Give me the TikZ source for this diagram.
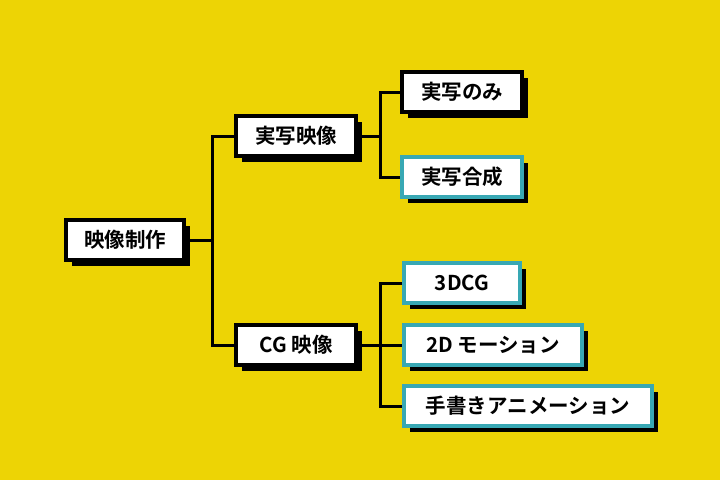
\documentclass[tikz,border=0pt]{standalone}
\usepackage{fontspec}
\newfontfamily\jp{Noto Sans CJK JP}[BoldFont={* Bold}]
\usetikzlibrary{shadows}
\definecolor{bg}{HTML}{EDD405}
\definecolor{teal}{HTML}{38A8B4}
\tikzset{
  box/.style={draw=black, line width=4pt, fill=white, inner sep=0pt, minimum height=40pt,
    font=\jp\bfseries\fontsize{20.5}{20.5}\selectfont,
    drop shadow={shadow xshift=6pt, shadow yshift=-6pt, fill=black, opacity=1}},
  tbox/.style={box, draw=teal},
  conn/.style={line width=3pt, black}
}
\begin{document}
\begin{tikzpicture}[x=1pt,y=-1pt]
\fill[bg] (0,0) rectangle (720,480);
\useasboundingbox (0,0) rectangle (720,480);
\node[box, minimum width=118pt] (root) at (125,240) {映像制作};
\node[box, minimum width=120pt] (a) at (296,136) {実写映像};
\node[box, minimum width=120pt] (b) at (296,345) {CG 映像};
\node[box, minimum width=120pt] (a1) at (462,92) {実写のみ};
\node[tbox, minimum width=120pt] (a2) at (462,177) {実写合成};
\node[tbox, minimum width=116pt] (b1) at (462,283) {3DCG};
\node[tbox, minimum width=178pt] (b2) at (493,345) {2D モーション};
\node[tbox, minimum width=248pt] (b3) at (528,406) {手書きアニメーション};
\coordinate (j0) at (212,240);
\coordinate (j1) at (380,136);
\coordinate (j2) at (380,345);
\draw[conn] (root.east) -- (j0);
\draw[conn] (a.west) -| (j0) |- (b.west);
\draw[conn] (a.east) -- (j1);
\draw[conn] (a1.west) -| (j1) |- (a2.west);
\draw[conn] (b.east) -- (j2);
\draw[conn] (b1.west) -| (j2) |- (b3.west);
\draw[conn] (j2) -- (b2.west);
\end{tikzpicture}
\end{document}
